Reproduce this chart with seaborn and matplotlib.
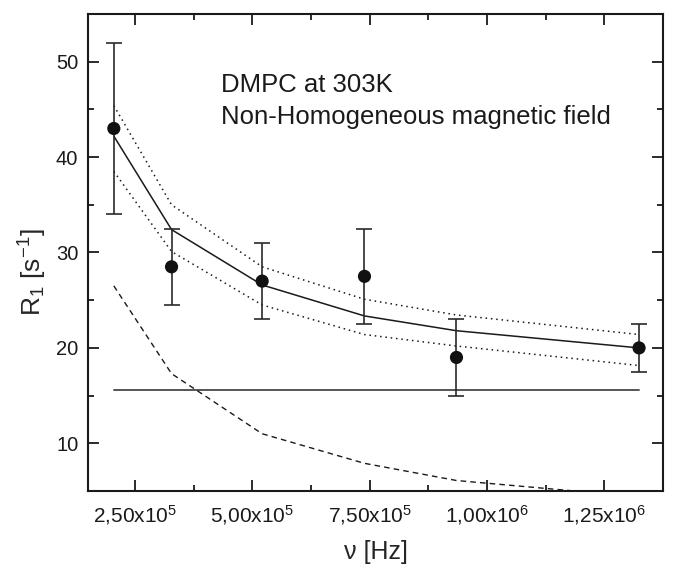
import numpy as np
import pandas as pd
import matplotlib
matplotlib.use("Agg")
import matplotlib.pyplot as plt
import seaborn as sns
from matplotlib.ticker import MultipleLocator, FixedLocator, FixedFormatter

# ---- data ----
freq = [2.05e5, 3.28e5, 5.21e5, 7.39e5, 9.35e5, 1.324e6]
r1_meas = [43.0, 28.5, 27.0, 27.5, 19.0, 20.0]
r1_err_low = [9.0, 4.0, 4.0, 5.0, 4.0, 2.5]
r1_err_high = [9.0, 4.0, 4.0, 5.0, 4.0, 2.5]
fit_total = [42.2, 32.4, 26.6, 23.35, 21.8, 20.0]
fit_upper = [45.4, 35.0, 28.5, 25.1, 23.45, 21.4]
fit_lower = [38.5, 30.1, 24.5, 21.4, 20.2, 18.15]
fit_const = [15.6, 15.6, 15.6, 15.6, 15.6, 15.6]
fit_dispersive = [26.5, 17.3, 11.0, 7.9, 6.1, 4.4]

xtick_vals = [2.5e5, 5.0e5, 7.5e5, 1.0e6, 1.25e6]
xtick_labels = [r"2,50x10$^{5}$", r"5,00x10$^{5}$", r"7,50x10$^{5}$",
                r"1,00x10$^{6}$", r"1,25x10$^{6}$"]
ytick_vals = [10, 20, 30, 40, 50]
annot_lines = ["DMPC at 303K", "Non-Homogeneous magnetic field"]

df = pd.DataFrame({
    "freq": freq, "meas": r1_meas, "total": fit_total, "upper": fit_upper,
    "lower": fit_lower, "const": fit_const, "disp": fit_dispersive,
})

sns.set_theme(style="ticks")
plt.rcParams["font.family"] = ["Liberation Sans", "DejaVu Sans"]
plt.rcParams["mathtext.fontset"] = "custom"
plt.rcParams["mathtext.rm"] = "Liberation Sans"
plt.rcParams["mathtext.it"] = "Liberation Sans"
plt.rcParams["mathtext.default"] = "regular"

fig = plt.figure(figsize=(6.75, 5.64), dpi=100)
ax = fig.add_axes([88 / 675, 1 - 491 / 564, (663 - 88) / 675, (491 - 14) / 564])

lc = "#1a1a1a"
sns.lineplot(data=df, x="freq", y="total", ax=ax, color=lc, lw=1.1)
sns.lineplot(data=df, x="freq", y="upper", ax=ax, color=lc, lw=1.1,
             linestyle=(0, (1, 2.5)))
sns.lineplot(data=df, x="freq", y="lower", ax=ax, color=lc, lw=1.1,
             linestyle=(0, (1, 2.5)))
sns.lineplot(data=df, x="freq", y="const", ax=ax, color="#555555", lw=1.4)
sns.lineplot(data=df, x="freq", y="disp", ax=ax, color=lc, lw=1.0,
             linestyle=(0, (4, 3)))

ax.errorbar(freq, r1_meas, yerr=[r1_err_low, r1_err_high], fmt="none",
            ecolor="#2a2a2a", elinewidth=1.2, capsize=5.5, capthick=1.2, zorder=3)
sns.scatterplot(data=df, x="freq", y="meas", ax=ax, color="#111111", s=90,
                edgecolor="none", zorder=4)

ax.set_xlim(1.5e5, 1.375e6)
ax.set_ylim(5, 55)
ax.xaxis.set_major_locator(FixedLocator(xtick_vals))
ax.xaxis.set_major_formatter(FixedFormatter(xtick_labels))
ax.xaxis.set_minor_locator(MultipleLocator(1.25e5))
ax.yaxis.set_major_locator(FixedLocator(ytick_vals))
ax.yaxis.set_minor_locator(MultipleLocator(5))

ax.tick_params(which="both", direction="in", top=True, right=True,
               width=1.3, colors="#1a1a1a")
ax.tick_params(which="major", length=8)
ax.tick_params(which="minor", length=4.5)
ax.tick_params(axis="x", which="major", pad=9, labelsize=15)
ax.tick_params(axis="y", which="major", pad=7, labelsize=14.5)
ax.tick_params(axis="x", which="both", labeltop=False)
ax.tick_params(axis="y", which="both", labelright=False)
for s in ax.spines.values():
    s.set_linewidth(1.5)
    s.set_color("#1a1a1a")
    s.set_visible(True)

ax.set_xlabel("ν [Hz]", fontsize=18, labelpad=9)
ax.set_ylabel(r"R$_{1}$ [s$^{-1}$]", fontsize=19)
ax.yaxis.set_label_coords(-0.068, 0.459)

ax.text(0.231, 0.836, annot_lines[0], transform=ax.transAxes, fontsize=18.5,
        va="baseline", ha="left", color="#1a1a1a")
ax.text(0.231, 0.770, annot_lines[1], transform=ax.transAxes, fontsize=18.5,
        va="baseline", ha="left", color="#1a1a1a")

fig.savefig("out.png", dpi=100)
